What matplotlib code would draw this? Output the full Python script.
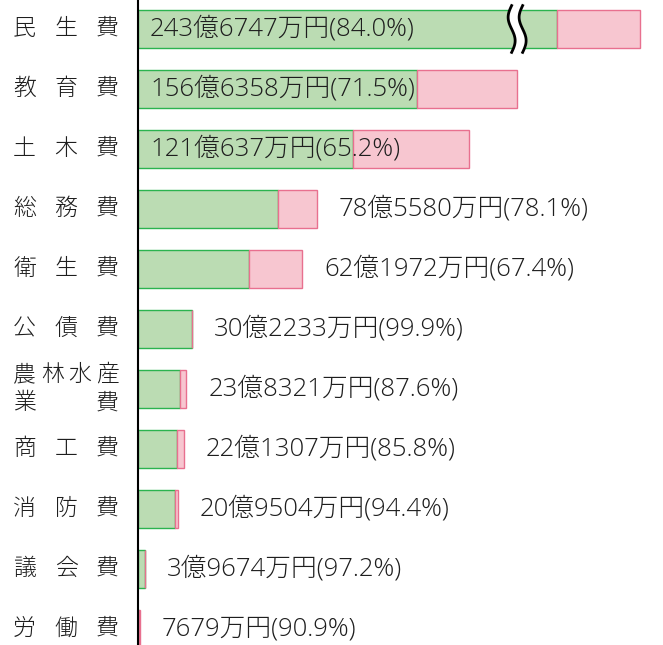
import numpy as np
import matplotlib
matplotlib.use('Agg')
import matplotlib.pyplot as plt
from matplotlib import transforms

plt.rcParams['font.family'] = ['Open Sans', 'Noto Sans CJK JP', 'DejaVu Sans']

# 費目ごとの支出済額と執行率
categories = ['民生費', '教育費', '土木費', '総務費', '衛生費', '公債費',
              '農林水産\n業費', '商工費', '消防費', '議会費', '労働費']
amount_oku = [243, 156, 121, 78, 62, 30, 23, 22, 20, 3, 0]
amount_man = [6747, 6358, 637, 5580, 1972, 2233, 8321, 1307, 9504, 9674, 7679]
rates = [84.0, 71.5, 65.2, 78.1, 67.4, 99.9, 87.6, 85.8, 94.4, 97.2, 90.9]

green, green_edge = '#bbdcb3', '#2bb34f'
pink, pink_edge = '#f7c6d0', '#e8708f'

done = np.array(amount_oku) + np.array(amount_man) / 10000
budget = done / (np.array(rates) / 100)

# axis break for the 民生費 bar
brk, gap = 213.0, 8.3
px_per = 1.78
x_max = 525 / px_per


def fwd(x):
    x = np.asarray(x, dtype=float)
    return np.where(x <= brk, x, np.maximum(x - gap, brk))


def inv(y):
    y = np.asarray(y, dtype=float)
    return np.where(y <= brk, y, y + gap)


fig = plt.figure(figsize=(6.63, 6.45), dpi=100)
ax = fig.add_axes([138 / 663, 0, 525 / 663, 1])
ax.set_xscale('function', functions=(fwd, inv))

y = np.arange(len(categories))
ax.barh(y, done, height=0.625, color=green, edgecolor=green_edge, linewidth=1)
ax.barh(y, budget - done, left=done, height=0.625, color=pink,
        edgecolor=pink_edge, linewidth=1)

# value labels
for i in range(len(categories)):
    if amount_oku[i] > 0:
        txt = f'{amount_oku[i]}億{amount_man[i]}万円({rates[i]:.1f}%)'
    else:
        txt = f'{amount_man[i]}万円({rates[i]:.1f}%)'
    if budget[i] > 150:
        ax.annotate(txt, xy=(0, i), xytext=(12, 0), textcoords='offset pixels',
                    va='center', ha='left', fontsize=18.5, fontweight='light',
                    color='#1e1e1e', zorder=5)
    else:
        ax.annotate(txt, xy=(budget[i], i), xytext=(22, 0), textcoords='offset pixels',
                    va='center', ha='left', fontsize=18.5, fontweight='light',
                    color='#1e1e1e')

# category labels, characters spread over a fixed width
lab_tr = transforms.blended_transform_factory(fig.transFigure, ax.transData)
for i, name in enumerate(categories):
    lines = name.split('\n')
    for k, line in enumerate(lines):
        yy = i + (k - (len(lines) - 1) / 2) * 0.47
        n = len(line)
        for j, ch in enumerate(line):
            cx = 24.5 + j * (107.5 - 24.5) / (n - 1)
            ax.text(cx / 663, yy, ch, transform=lab_tr, ha='center', va='center',
                    fontsize=16.5, fontweight='light', color='#1e1e1e')

# break mark (wavy double line)
blend = transforms.blended_transform_factory(ax.transAxes, ax.transData)
xb = brk / x_max
t = np.linspace(0, 1, 80)
yy = -0.39 + 0.78 * t
wave = -3.5 * np.sin(2 * np.pi * t)
xl = xb + (wave - 5.5) / 525
xr = xb + (wave + 5.5) / 525
ax.fill_betweenx(yy, xl, xr, color='white', transform=blend, zorder=3)
ax.plot(xl, yy, color='black', lw=2, transform=blend, zorder=4)
ax.plot(xr, yy, color='black', lw=2, transform=blend, zorder=4)

ax.set_xlim(0, x_max + gap)
ax.set_ylim(10.267, -0.483)
for s in ['top', 'right', 'bottom']:
    ax.spines[s].set_visible(False)
ax.spines['left'].set_linewidth(1.5)
ax.spines['left'].set_zorder(6)
ax.tick_params(left=False, bottom=False, labelleft=False, labelbottom=False)

fig.savefig('out.png', dpi=100)
